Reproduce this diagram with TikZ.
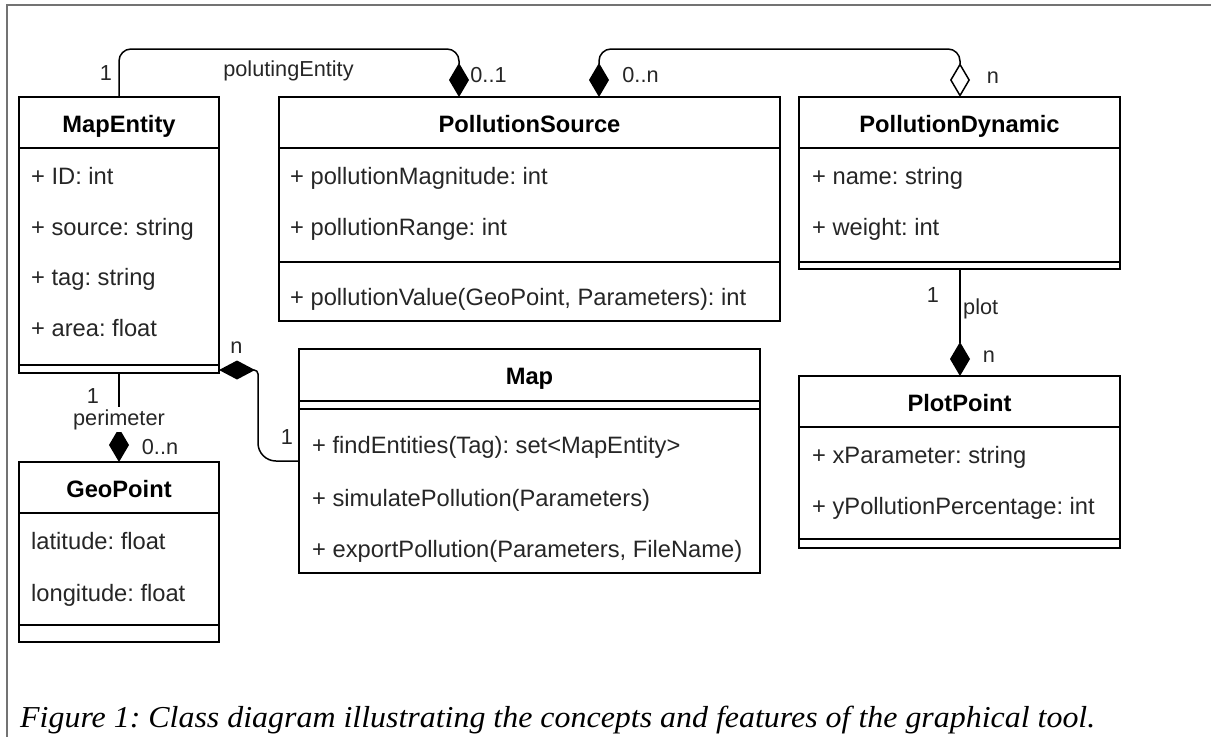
\documentclass[tikz,border=0pt]{standalone}
\usepackage{fontspec}
\setmainfont{Liberation Sans}
\newfontfamily\capfont{Liberation Serif}
\usetikzlibrary{arrows.meta,calc}
\frenchspacing
\tikzset{
  cls/.style={draw, line width=1.5pt, anchor=north west, inner sep=0pt, outer sep=0pt},
  sepline/.style={line width=1.5pt},
  ttl/.style={font=\fontsize{23.7}{28}\bfseries\selectfont, anchor=base, inner sep=0pt},
  att/.style={font=\fontsize{23.7}{28}\selectfont, anchor=base west, inner sep=0pt, text=black!85},
  lbl/.style={font=\fontsize{21.7}{26}\selectfont, anchor=base, inner sep=0pt, text=black!85},
  conn/.style={line width=1.5pt, rounded corners=12},
  fdia/.tip={Diamond[length=34pt, width=20pt, line join=miter]},
  odia/.tip={Diamond[length=34pt, width=20pt, open, fill=white, line join=miter]},
  sdia/.tip={Diamond[length=36pt, width=19pt, line join=miter]},
}
\begin{document}
\frenchspacing
\begin{tikzpicture}[x=1pt,y=-1pt]
\useasboundingbox (0,0) rectangle (1211,737);
% frame
\draw[line width=1.5pt, color=black!55] (1211,5) -- (7,5) -- (7,737);

% ---- MapEntity
\node[cls, minimum width=200, minimum height=276] (me) at (19,97) {};
\draw[sepline] ($(me.north west)+(0,51)$) -- ($(me.north east)+(0,51)$);
\draw[sepline] ($(me.south west)+(0,-8)$) -- ($(me.south east)+(0,-8)$);
\node[ttl] (meT) at (119,132) {MapEntity};
\node[att] (me1) at (31,184.5) {+ ID: int};
\node[att] (me2) at (31,235) {+ source: string};
\node[att] (me3) at (31,285.5) {+ tag: string};
\node[att] (me4) at (31,336.5) {+ area: float};

% ---- PollutionSource
\node[cls, minimum width=501, minimum height=224] (ps) at (279,97) {};
\draw[sepline] ($(ps.north west)+(0,51)$) -- ($(ps.north east)+(0,51)$);
\draw[sepline] ($(ps.north west)+(0,165)$) -- ($(ps.north east)+(0,165)$);
\node[ttl] (psT) at (529.5,132) {PollutionSource};
\node[att] (ps1) at (290,184.5) {+ pollutionMagnitude: int};
\node[att] (ps2) at (290,235) {+ pollutionRange: int};
\node[att] (ps3) at (290,305.5) {+ pollutionValue(GeoPoint, Parameters): int};

% ---- PollutionDynamic
\node[cls, minimum width=321, minimum height=172] (pd) at (799,97) {};
\draw[sepline] ($(pd.north west)+(0,51)$) -- ($(pd.north east)+(0,51)$);
\draw[sepline] ($(pd.south west)+(0,-7)$) -- ($(pd.south east)+(0,-7)$);
\node[ttl] (pdT) at (959.5,132) {PollutionDynamic};
\node[att] (pd1) at (812,184.5) {+ name: string};
\node[att] (pd2) at (812,235) {+ weight: int};

% ---- PlotPoint
\node[cls, minimum width=321, minimum height=172] (pp) at (799,376) {};
\draw[sepline] ($(pp.north west)+(0,51)$) -- ($(pp.north east)+(0,51)$);
\draw[sepline] ($(pp.south west)+(0,-9)$) -- ($(pp.south east)+(0,-9)$);
\node[ttl] (ppT) at (959.5,411) {PlotPoint};
\node[att] (pp1) at (812,463) {+ xParameter: string};
\node[att] (pp2) at (812,514) {+ yPollutionPercentage: int};

% ---- Map
\node[cls, minimum width=461, minimum height=224] (map) at (299,349) {};
\draw[sepline] ($(map.north west)+(0,52)$) -- ($(map.north east)+(0,52)$);
\draw[sepline] ($(map.north west)+(0,60)$) -- ($(map.north east)+(0,60)$);
\node[ttl] (mapT) at (529.5,384) {Map};
\node[att] (map1) at (312,453) {+ findEntities(Tag): set<MapEntity>};
\node[att] (map2) at (312,506) {+ simulatePollution(Parameters)};
\node[att] (map3) at (312,557) {+ exportPollution(Parameters, FileName)};

% ---- GeoPoint
\node[cls, minimum width=200, minimum height=180] (geo) at (19,462) {};
\draw[sepline] ($(geo.north west)+(0,51)$) -- ($(geo.north east)+(0,51)$);
\draw[sepline] ($(geo.south west)+(0,-17)$) -- ($(geo.south east)+(0,-17)$);
\node[ttl] (geoT) at (119,497) {GeoPoint};
\node[att] (geo1) at (31,549) {latitude: float};
\node[att] (geo2) at (31,601) {longitude: float};

% ---- connectors
\draw[conn,-fdia] (me.north) |- ($(ps.north west)+(180,-48)$) -- ($(ps.north west)+(180,0)$);
\node[lbl] (l1) at (106,80) {1};
\node[lbl] (l2) at (288.5,76) {polutingEntity};
\node[lbl] (l3) at (488.5,82) {0..1};

\draw[conn,odia-fdia] ($(pd.north west)+(161,0)$) |- ($(ps.north west)+(320,-48)$) -- ($(ps.north west)+(320,0)$);
\node[lbl] (l4) at (640.5,82) {0..n};
\node[lbl] (l5) at (993,83) {n};

\draw[line width=1.5pt,-fdia] ($(pd.south west)+(161,0)$) -- ($(pp.north west)+(161,0)$);
\node[lbl] (l6) at (933,302) {1};
\node[lbl, anchor=base west] (l7) at (963,314) {plot};
\node[lbl] (l8) at (989,362) {n};

\draw[line width=1.5pt,sdia-] ($(me.south east)+(0,-3)$) [rounded corners=4] -- ($(me.south east)+(39,-3)$) [rounded corners=18] |- ($(map.north west)+(0,112)$);
\node[lbl] (l9) at (236.5,353) {n};
\node[lbl] (l10) at (287,444) {1};

\draw[line width=1.5pt,-fdia] (me.south) -- (geo.north);
\node[lbl, fill=white, inner ysep=2pt] (l12) at (119,425) {perimeter};
\node[lbl] (l11) at (93,403) {1};
\node[lbl] (l13) at (160,454) {0..n};

% ---- caption
\node[anchor=base west, inner sep=0pt] (cap) at (20,727) {\resizebox{1075pt}{\height}{\capfont\itshape\fontsize{30.4}{36}\selectfont Figure 1: Class diagram illustrating the concepts and features of the graphical tool.}};
\end{tikzpicture}
\end{document}
